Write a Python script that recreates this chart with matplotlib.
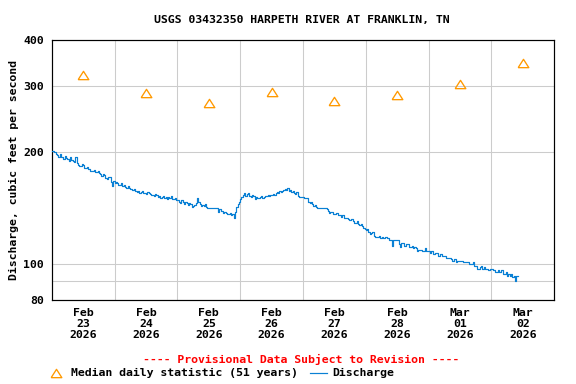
import matplotlib
matplotlib.use('Agg')
import matplotlib.pyplot as plt
import matplotlib.dates as mdates
from matplotlib.ticker import FixedLocator, FixedFormatter, NullFormatter
from matplotlib.lines import Line2D
import pandas as pd

plt.rcParams['font.family'] = ['DejaVu Sans Mono']
plt.rcParams['font.weight'] = 'bold'
FS = 8.6

# ---- data ----
title = 'USGS 03432350 HARPETH RIVER AT FRANKLIN, TN'
y_label = 'Discharge, cubic feet per second'
start_time = '2026-02-23 00:00'
# half-hourly discharge, cfs (one row per day)
discharge = [
    201, 201, 200, 197, 196, 194, 197, 193, 193, 191, 195, 192, 191, 189, 193, 190, 189, 188, 194, 186, 184, 183, 183, 185,
    184, 181, 181, 182, 180, 178, 177, 178, 179, 176, 176, 177, 175, 174, 172, 174, 173, 170, 169, 171, 171, 166, 162, 167,
    165, 166, 165, 163, 163, 165, 162, 163, 161, 160, 162, 160, 159, 158, 158, 159, 157, 156, 157, 155, 156, 157, 155, 155,
    154, 156, 155, 154, 153, 153, 152, 154, 153, 151, 152, 150, 151, 152, 150, 151, 149, 151, 150, 152, 149, 149, 150, 148,
    148, 147, 146, 148, 147, 145, 147, 146, 144, 146, 145, 142, 143, 144, 146, 150, 147, 145, 143, 144, 143, 145, 142, 141,
    141, 141, 141, 141, 141, 141, 141, 138, 140, 139, 139, 137, 138, 137, 136, 136, 137, 135, 136, 133, 138, 142, 145, 147,
    149, 151, 153, 155, 152, 154, 155, 152, 151, 153, 152, 149, 151, 150, 150, 151, 152, 150, 151, 152, 152, 153, 152, 153,
    153, 154, 153, 155, 156, 155, 157, 156, 157, 158, 159, 158, 160, 157, 158, 156, 157, 155, 154, 156, 152, 151, 151, 151,
    151, 150, 150, 150, 147, 146, 147, 145, 143, 144, 142, 141, 141, 141, 141, 141, 141, 141, 140, 139, 137, 138, 138, 136,
    136, 137, 137, 135, 135, 134, 135, 133, 133, 133, 132, 131, 131, 132, 130, 129, 129, 130, 128, 127, 128, 126, 125, 124,
    123, 124, 122, 120, 121, 122, 119, 118, 118, 118, 119, 117, 118, 117, 117, 118, 117, 117, 116, 116, 112, 116, 116, 116,
    116, 113, 111, 114, 114, 112, 112, 113, 113, 111, 111, 112, 110, 111, 110, 108, 109, 109, 109, 108, 108, 110, 108, 108,
    108, 107, 108, 106, 106, 107, 107, 105, 105, 106, 105, 105, 105, 104, 104, 104, 104, 103, 102, 103, 103, 101, 102, 102,
    102, 102, 101, 101, 101, 101, 101, 100, 100, 100, 101, 99, 99, 97, 97, 98, 99, 97, 98, 97, 97, 96, 96, 97,
    97, 96, 96, 95, 95, 96, 95, 96, 96, 94, 94, 95, 93, 94, 93, 94, 92, 93, 90, 93, 93,
]
median_days = ['2026-02-23 12:00', '2026-02-24 12:00', '2026-02-25 12:00', '2026-02-26 12:00',
               '2026-02-27 12:00', '2026-02-28 12:00', '2026-03-01 12:00', '2026-03-02 12:00']
median_values = [322, 288, 271, 290, 273, 284, 304, 346]
x_tick_labels = ['Feb\n23\n2026', 'Feb\n24\n2026', 'Feb\n25\n2026', 'Feb\n26\n2026',
                 'Feb\n27\n2026', 'Feb\n28\n2026', 'Mar\n01\n2026', 'Mar\n02\n2026']
y_ticks = [80, 100, 200, 300, 400]
y_minor = [90]
legend_median = 'Median daily statistic (51 years)'
legend_discharge = 'Discharge'
provisional = '---- Provisional Data Subject to Revision ----'

ORANGE = '#ff9900'
BLUE = '#0a80d4'
GRID = '#cccccc'
W, H = 576, 384
tri = [(-1, -0.78), (1, -0.78), (0, 0.78), (-1, -0.78)]

fig = plt.figure(figsize=(6, 4), dpi=96)
ax = fig.add_axes([51.7 / W, 84 / H, 502.6 / W, 260.5 / H])
ax.set_yscale('log')

times = pd.date_range(start_time, periods=len(discharge), freq='30min')
ax.plot(times, discharge, color=BLUE, lw=0.9, drawstyle='steps-post', zorder=3)
ax.plot(pd.to_datetime(median_days), median_values, linestyle='none', marker=tri, ms=8,
        mfc='none', mec=ORANGE, mew=1.0, zorder=4)

ax.set_xlim(pd.Timestamp('2026-02-23'), pd.Timestamp('2026-03-03'))
ax.set_ylim(80, 400)

ax.xaxis.set_major_locator(FixedLocator(mdates.date2num(pd.date_range('2026-02-24', periods=7, freq='D'))))
ax.xaxis.set_major_formatter(NullFormatter())
ax.xaxis.set_minor_locator(FixedLocator(mdates.date2num(pd.to_datetime(median_days))))
ax.xaxis.set_minor_formatter(FixedFormatter(x_tick_labels))
ax.tick_params(axis='x', which='both', length=0, pad=6, labelsize=FS)
for lab in ax.xaxis.get_minorticklabels():
    lab.set_linespacing(1.1)

ax.yaxis.set_major_locator(FixedLocator(y_ticks))
ax.yaxis.set_major_formatter(FixedFormatter([str(v) for v in y_ticks]))
ax.yaxis.set_minor_locator(FixedLocator(y_minor))
ax.yaxis.set_minor_formatter(NullFormatter())
ax.tick_params(axis='y', which='both', length=0, pad=6, labelsize=FS)

ax.xaxis.grid(True, which='major', color=GRID, lw=0.8)
ax.yaxis.grid(True, which='both', color=GRID, lw=0.8)
ax.set_axisbelow(True)
for s in ax.spines.values():
    s.set_linewidth(0.9)
    s.set_color('black')

fig.text(302 / W, 1 - 20 / H, title, ha='center', va='center', fontsize=FS)
fig.text(14 / W, 1 - 170 / H, y_label, ha='center', va='center', rotation=90, fontsize=FS)
fig.text(301.6 / W, 1 - 359.3 / H, provisional, ha='center', va='center', color='red', fontsize=FS)

ly = 1 - 372.7 / H
fig.add_artist(Line2D([56.3 / W], [ly], marker=tri, ms=8, mfc='none', mec=ORANGE, mew=1.0,
                      linestyle='none', transform=fig.transFigure))
fig.text(71 / W, ly, legend_median, ha='left', va='center', fontsize=FS)
fig.add_artist(Line2D([310 / W, 326.5 / W], [ly, ly], color=BLUE, lw=0.9, transform=fig.transFigure))
fig.text(332.7 / W, ly, legend_discharge, ha='left', va='center', fontsize=FS)

fig.savefig('out.png', dpi=96)
